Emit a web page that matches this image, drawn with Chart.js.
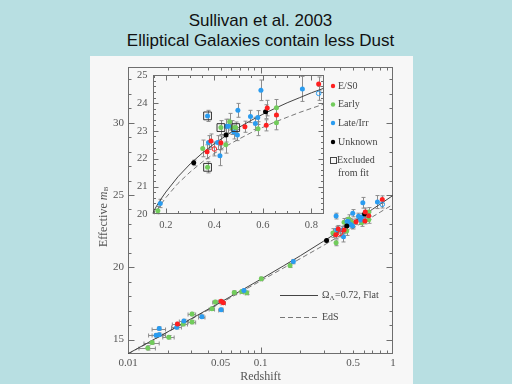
<!DOCTYPE html>
<html>
<head>
<meta charset="utf-8">
<script src="https://cdn.jsdelivr.net/npm/chart.js@4"></script>
<style>
  html, body { margin: 0; padding: 0; }
  body { width: 512px; height: 384px; background: #b8dfe2; position: relative; overflow: hidden;
         font-family: "Liberation Sans", Arial, sans-serif; }
  .title { position: absolute; left: 0; width: 521px; text-align: center; font-size: 17px; line-height: 20px; color: #111; }
  #panel { position: absolute; left: 90px; top: 56px; width: 323px; height: 328px; background: #f7f7f7; }
  canvas { position: absolute; }
</style>
</head>
<body>
<div class="title" style="top:11px">Sullivan et al. 2003</div>
<div class="title" style="top:31px">Elliptical Galaxies contain less Dust</div>
<div id="panel"></div>
<canvas id="main" width="323" height="328" style="left:90px;top:56px"></canvas>
<canvas id="inset" width="200" height="170" style="left:130px;top:64px"></canvas>
<script>
// values (redshift, effective m_B, error)
const redZ    = [0.0236, 0.0504, 0.0524, 0.370, 0.386, 0.427, 0.526, 0.614, 0.618, 0.656, 0.830];
const redM    = [16.07, 17.65, 17.54, 22.25, 22.64, 22.57, 23.15, 23.20, 23.82, 23.57, 24.69];
const redErr  = [0.12, 0.10, 0.10, 0.25, 0.25, 0.25, 0.20, 0.20, 0.28, 0.25, 0.25];
const redZErr = [0.002, 0.002, 0.002, 0, 0, 0, 0, 0, 0, 0, 0];

const greenZ    = [0.0141, 0.0152, 0.0203, 0.0261, 0.0304, 0.0304, 0.0430, 0.0456, 0.0634, 0.0722, 0.0787, 0.1014,
                   0.167, 0.352, 0.372, 0.427, 0.447, 0.463, 0.472, 0.488, 0.580, 0.656, 0.656];
const greenM    = [14.42, 14.79, 15.16, 16.07, 16.21, 16.76, 17.13, 17.59, 18.25, 18.32, 18.23, 19.20,
                   20.13, 22.37, 21.69, 23.12, 22.50, 23.33, 23.12, 23.12, 23.08, 23.83, 23.29];
const greenErr  = [0.15, 0.12, 0.12, 0.12, 0.12, 0.12, 0.12, 0.12, 0.12, 0.12, 0.12, 0.12,
                   0.15, 0.30, 0.20, 0.25, 0.30, 0.30, 0.25, 0.20, 0.25, 0.30, 0.25];
const greenZErr = [0.002, 0.002, 0.002, 0.002, 0.002, 0.002, 0.002, 0.002, 0.002, 0.002, 0.002, 0.002,
                   0, 0, 0, 0, 0, 0, 0, 0, 0, 0, 0];

const blueZ    = [0.0163, 0.0172, 0.0172, 0.0233, 0.0264, 0.0361, 0.0504, 0.075, 0.177,
                  0.372, 0.376, 0.413, 0.423, 0.450, 0.458, 0.480, 0.495, 0.497, 0.549, 0.569, 0.579, 0.592, 0.763];
const blueM    = [15.30, 15.34, 15.76, 15.85, 16.28, 16.58, 17.06, 18.39, 20.39,
                  23.54, 22.58, 22.58, 22.11, 23.17, 23.17, 22.96, 22.85, 23.74, 23.52, 23.27, 23.48, 24.46, 24.51];
const blueErr  = [0.12, 0.12, 0.12, 0.12, 0.12, 0.12, 0.12, 0.12, 0.15,
                  0.20, 0.25, 0.25, 0.36, 0.25, 0.25, 0.25, 0.20, 0.25, 0.22, 0.22, 0.25, 0.37, 0.45];
const blueZErr = [0.002, 0.002, 0.002, 0.002, 0.002, 0.002, 0.002, 0.002, 0,
                  0, 0, 0, 0, 0, 0, 0, 0, 0, 0, 0, 0, 0, 0];

const blackZ   = [0.315, 0.448, 0.611];
const blackM   = [21.85, 22.85, 23.69];
const blackErr = [0.10, 0.25, 0.25];

const openRedZ = [0.40],  openRedM = [22.35],  openRedErr = [0.25];
const openBlueZ = [0.83], openBlueM = [24.35], openBlueErr = [0.25];

// points boxed in the inset ("Excluded from fit")
const exclZ = [0.372, 0.372, 0.427, 0.488];
const exclM = [23.54, 21.69, 23.12, 23.12];

// model curves: Omega_L = 0.72 flat, and Einstein-de Sitter
const curveZ = [0.01, 0.02, 0.03, 0.05, 0.1, 0.15, 0.2, 0.3, 0.4, 0.5, 0.6, 0.7, 0.8, 0.85, 1.0];
const flatM  = [14.02, 15.54, 16.44, 17.58, 19.16, 20.11, 20.80, 21.81, 22.54, 23.12, 23.60, 24.01, 24.37, 24.53, 24.97];
const edsM   = [14.01, 15.52, 16.40, 17.52, 19.05, 19.96, 20.60, 21.52, 22.19, 22.70, 23.13, 23.49, 23.81, 23.96, 24.34];

const insetCurveZ = [0.145, 0.16, 0.18, 0.2, 0.25, 0.3, 0.35, 0.4, 0.45, 0.5, 0.55, 0.6, 0.65, 0.7, 0.75, 0.8, 0.85];
const insetFlatM  = [20.03, 20.27, 20.55, 20.80, 21.35, 21.81, 22.20, 22.54, 22.84, 23.12, 23.37, 23.60, 23.81, 24.01, 24.19, 24.37, 24.53];
const insetEdsM   = [19.88, 20.10, 20.36, 20.60, 21.11, 21.52, 21.88, 22.19, 22.46, 22.70, 22.93, 23.13, 23.32, 23.49, 23.66, 23.81, 23.96];

// tick labels
const xTickValues = [0.01, 0.05, 0.1, 0.5, 1];
const xTickLabels = ['0.01', '0.05', '0.1', '0.5', '1'];
const yTickValues = [15, 20, 25, 30];
const insetXTickValues = [0.2, 0.4, 0.6, 0.8];
const insetXTickLabels = ['0.2', '0.4', '0.6', '0.8'];
const insetYTickValues = [20, 21, 22, 23, 24, 25];

const RED = '#ff2020', GREEN = '#72cc5c', BLUE = '#2a9cf0', BLACK = '#000000';
const TEXT = '#555';
const SERIF = '"Liberation Serif", "Times New Roman", serif';

function pts(zs, ms) {
  return zs.map((z, i) => ({ x: z, y: ms[i] }));
}

function dots(zs, ms, err, zerr, color) {
  return { data: pts(zs, ms), yErr: err, xErr: zerr, pointRadius: 2.5,
           backgroundColor: color, borderColor: color, borderWidth: 0 };
}

function ring(zs, ms, err, color) {
  return { data: pts(zs, ms), yErr: err, pointRadius: 2.3,
           backgroundColor: 'rgba(0,0,0,0)', borderColor: color, borderWidth: 1 };
}

function curve(zs, ms, color, dash) {
  return { data: pts(zs, ms), showLine: true, pointRadius: 0, borderColor: color,
           borderWidth: 1, borderDash: dash, fill: false };
}

// minor tick positions (axis decoration only)
const logMinor = [];
[0.01, 0.1].forEach(d => { for (let k = 2; k <= 9; k++) logMinor.push(d * k); });
const magMinor = [];
for (let m = 14; m <= 33; m++) if (m % 5) magMinor.push(m);
const insetXMinor = [];
for (let k = 3; k <= 17; k++) if (k % 4) insetXMinor.push(k * 0.05);
const insetYMinor = [];
for (let k = 100; k <= 125; k++) if (k % 5) insetYMinor.push(k / 5);

// vertical / horizontal error bars, through the chart scales
const errorBars = {
  id: 'errorBars',
  beforeDatasetsDraw(chart) {
    const { ctx, chartArea: a, scales: { x, y } } = chart;
    ctx.save();
    ctx.beginPath();
    ctx.rect(a.left, a.top, a.width, a.height);
    ctx.clip();
    ctx.strokeStyle = '#8c8c8c';
    ctx.lineWidth = 1;
    chart.data.datasets.forEach(ds => {
      if (!ds.yErr) return;
      ds.data.forEach((p, i) => {
        const px = Math.round(x.getPixelForValue(p.x)) + 0.5;
        const py = Math.round(y.getPixelForValue(p.y)) + 0.5;
        const e = ds.yErr[i] || 0;
        ctx.beginPath();
        if (e) {
          const t = y.getPixelForValue(p.y + e), b = y.getPixelForValue(p.y - e);
          ctx.moveTo(px, t); ctx.lineTo(px, b);
          ctx.moveTo(px - 2, t); ctx.lineTo(px + 2, t);
          ctx.moveTo(px - 2, b); ctx.lineTo(px + 2, b);
        }
        const ez = ds.xErr ? ds.xErr[i] : 0;
        if (ez) {
          const l = x.getPixelForValue(p.x - ez), r = x.getPixelForValue(p.x + ez);
          ctx.moveTo(l, py); ctx.lineTo(r, py);
          ctx.moveTo(l, py - 2); ctx.lineTo(l, py + 2);
          ctx.moveTo(r, py - 2); ctx.lineTo(r, py + 2);
        }
        ctx.stroke();
      });
    });
    ctx.restore();
  }
};

// box around the plot with inward ticks on all four sides
const frameTicks = {
  id: 'frameTicks',
  beforeDatasetsDraw(chart, args, o) {
    const { ctx, chartArea: a, scales: { x, y } } = chart;
    const L = Math.round(a.left) + 0.5, R = Math.round(a.right) - 0.5;
    const T = Math.round(a.top) + 0.5, B = Math.round(a.bottom) - 0.5;
    ctx.save();
    ctx.strokeStyle = '#6e6e6e';
    ctx.lineWidth = 1;
    ctx.strokeRect(L, T, R - L, B - T);
    ctx.beginPath();
    const xt = (vals, len) => vals.forEach(v => {
      const px = Math.round(x.getPixelForValue(v)) + 0.5;
      if (px < L || px > R) return;
      ctx.moveTo(px, B); ctx.lineTo(px, B - len);
      ctx.moveTo(px, T); ctx.lineTo(px, T + len);
    });
    const yt = (vals, len) => vals.forEach(v => {
      const py = Math.round(y.getPixelForValue(v)) + 0.5;
      if (py < T || py > B) return;
      ctx.moveTo(L, py); ctx.lineTo(L + len, py);
      ctx.moveTo(R, py); ctx.lineTo(R - len, py);
    });
    xt(o.xMajor, o.major); xt(o.xMinor, o.minor);
    yt(o.yMajor, o.major); yt(o.yMinor, o.minor);
    ctx.stroke();
    ctx.restore();
  }
};

// keys and the y axis title (with its subscript)
const keys = {
  id: 'keys',
  afterDraw(chart) {
    const ctx = chart.ctx;
    ctx.save();
    ctx.font = '10px ' + SERIF;
    ctx.textBaseline = 'middle';
    const items = [['E/S0', RED], ['Early', GREEN], ['Late/Irr', BLUE], ['Unknown', BLACK]];
    const ys = [30, 48.5, 67, 86];
    items.forEach(([t, c], i) => {
      ctx.fillStyle = c;
      ctx.beginPath(); ctx.arc(243, ys[i], 2.2, 0, Math.PI * 2); ctx.fill();
      ctx.fillStyle = '#444';
      ctx.fillText(t, 248, ys[i]);
    });
    ctx.strokeStyle = '#444';
    ctx.lineWidth = 1;
    ctx.strokeRect(240.5, 101.5, 6, 6);
    ctx.fillText('Excluded', 247, 104.5);
    ctx.fillText('from fit', 248, 117.5);

    // model lines
    ctx.beginPath(); ctx.moveTo(190, 239.5); ctx.lineTo(228, 239.5); ctx.stroke();
    ctx.setLineDash([5, 3]);
    ctx.strokeStyle = '#777';
    ctx.beginPath(); ctx.moveTo(190, 261.5); ctx.lineTo(228, 261.5); ctx.stroke();
    ctx.setLineDash([]);
    ctx.fillStyle = '#444';
    let tx = 232;
    ctx.fillText('\u03A9', tx, 239.5); tx += ctx.measureText('\u03A9').width;
    ctx.font = '7px ' + SERIF;
    ctx.fillText('\u039B', tx, 242.5); tx += ctx.measureText('\u039B').width + 0.5;
    ctx.font = '10px ' + SERIF;
    ctx.fillText('=0.72, Flat', tx, 239.5);
    ctx.fillText('EdS', 232, 261.5);

    // "Effective m_B"
    ctx.translate(13.5, 161);
    ctx.rotate(-Math.PI / 2);
    ctx.fillStyle = TEXT;
    ctx.font = '12px ' + SERIF;
    const w1 = ctx.measureText('Effective ').width;
    ctx.font = 'italic 12px ' + SERIF;
    const w2 = ctx.measureText('m').width;
    ctx.font = '7px ' + SERIF;
    const w3 = ctx.measureText('B').width;
    let sx = -(w1 + w2 + w3) / 2;
    ctx.font = '12px ' + SERIF;
    ctx.fillText('Effective ', sx, 0); sx += w1;
    ctx.font = 'italic 12px ' + SERIF;
    ctx.fillText('m', sx, 0); sx += w2;
    ctx.font = '7px ' + SERIF;
    ctx.fillText('B', sx + 0.5, 3);
    ctx.restore();
  }
};

const tickFont = size => ({ family: SERIF, size: size });

new Chart(document.getElementById('main'), {
  type: 'scatter',
  data: {
    datasets: [
      ring(openRedZ, openRedM, openRedErr, RED),
      ring(openBlueZ, openBlueM, openBlueErr, BLUE),
      dots(redZ, redM, redErr, redZErr, RED),
      dots(blackZ, blackM, blackErr, null, BLACK),
      dots(blueZ, blueM, blueErr, blueZErr, BLUE),
      dots(greenZ, greenM, greenErr, greenZErr, GREEN),
      curve(curveZ, flatM, '#444', []),
      curve(curveZ, edsM, '#777', [5, 3])
    ]
  },
  options: {
    responsive: false,
    animation: false,
    events: [],
    layout: { padding: { left: 0, right: 20, top: 8.5, bottom: 0 } },
    plugins: {
      legend: { display: false },
      tooltip: { enabled: false },
      frameTicks: { xMajor: [0.01, 0.1, 1], xMinor: logMinor, yMajor: yTickValues, yMinor: magMinor, major: 6, minor: 3 }
    },
    scales: {
      x: {
        type: 'logarithmic', min: 0.01, max: 1,
        grid: { display: false, drawTicks: false },
        border: { display: false },
        afterBuildTicks: s => { s.ticks = xTickValues.map(v => ({ value: v })); },
        afterFit: s => { s.height = 30; },
        ticks: { autoSkip: false, maxRotation: 0, padding: 3, color: TEXT, font: tickFont(11),
                 callback: (v, i) => xTickLabels[i] },
        title: { display: true, text: 'Redshift', color: TEXT, font: tickFont(12), padding: 0 }
      },
      y: {
        min: 14, max: 33.88,
        grid: { display: false, drawTicks: false },
        border: { display: false },
        afterBuildTicks: s => { s.ticks = yTickValues.map(v => ({ value: v })); },
        afterFit: s => { s.width = 38; },
        ticks: { autoSkip: false, padding: 4, color: TEXT, font: tickFont(11) }
      }
    }
  },
  plugins: [errorBars, frameTicks, keys]
});

new Chart(document.getElementById('inset'), {
  type: 'scatter',
  data: {
    datasets: [
      { data: pts(exclZ, exclM), pointStyle: 'rect', pointRadius: 5.5,
        backgroundColor: 'rgba(0,0,0,0)', borderColor: '#333', borderWidth: 1 },
      ring(openRedZ, openRedM, openRedErr, RED),
      ring(openBlueZ, openBlueM, openBlueErr, BLUE),
      dots(redZ, redM, redErr, null, RED),
      dots(blackZ, blackM, blackErr, null, BLACK),
      dots(blueZ, blueM, blueErr, null, BLUE),
      dots(greenZ, greenM, greenErr, null, GREEN),
      curve(insetCurveZ, insetFlatM, '#444', []),
      curve(insetCurveZ, insetEdsM, '#777', [5, 3])
    ]
  },
  options: {
    responsive: false,
    animation: false,
    events: [],
    layout: { padding: { left: 0, right: 4.7, top: 9, bottom: 0 } },
    plugins: {
      legend: { display: false },
      tooltip: { enabled: false },
      frameTicks: { xMajor: insetXTickValues, xMinor: insetXMinor, yMajor: insetYTickValues, yMinor: insetYMinor, major: 5, minor: 2.5 }
    },
    scales: {
      x: {
        type: 'linear', min: 0.145, max: 0.85,
        grid: { display: false, drawTicks: false },
        border: { display: false },
        afterBuildTicks: s => { s.ticks = insetXTickValues.map(v => ({ value: v })); },
        afterFit: s => { s.height = 19.7; },
        ticks: { autoSkip: false, maxRotation: 0, padding: 5, color: TEXT, font: tickFont(10.5),
                 callback: (v, i) => insetXTickLabels[i] }
      },
      y: {
        min: 20, max: 25,
        grid: { display: false, drawTicks: false },
        border: { display: false },
        afterBuildTicks: s => { s.ticks = insetYTickValues.map(v => ({ value: v })); },
        afterFit: s => { s.width = 22.5; },
        ticks: { autoSkip: false, padding: 5, color: TEXT, font: tickFont(10.5) }
      }
    }
  },
  plugins: [errorBars, frameTicks]
});
</script>
</body>
</html>
